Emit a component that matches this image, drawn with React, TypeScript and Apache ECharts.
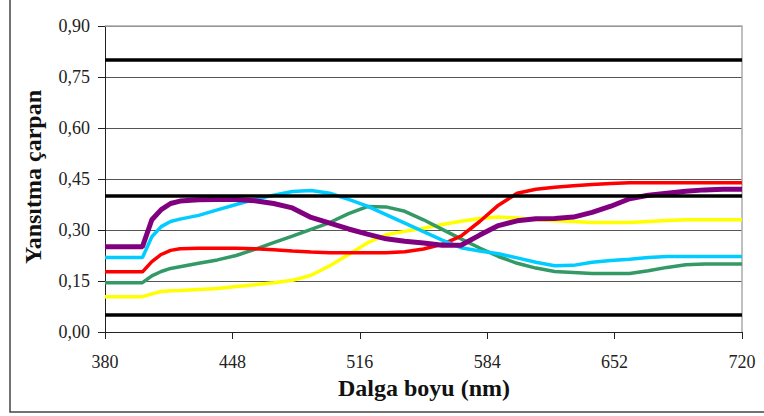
import React, { useEffect, useRef } from "react";
import * as echarts from "echarts";

// Wavelength sampling (nm)
const wavelengths = [
  380, 390, 400, 405, 410, 415, 420, 430, 440, 450, 460, 470, 480, 490, 500,
  510, 520, 530, 540, 550, 560, 570, 580, 590, 600, 610, 620, 630, 640, 650,
  660, 670, 680, 690, 700, 710, 720,
];

// Reflectance curves
const purpleCurve = [
  0.251, 0.251, 0.251, 0.33, 0.36, 0.378, 0.385, 0.389, 0.39, 0.39, 0.386,
  0.378, 0.365, 0.337, 0.32, 0.303, 0.288, 0.274, 0.267, 0.262, 0.255, 0.255,
  0.285, 0.313, 0.327, 0.333, 0.334, 0.338, 0.352, 0.37, 0.392, 0.402, 0.408,
  0.414, 0.418, 0.42, 0.42,
];
const cyanCurve = [
  0.219, 0.219, 0.219, 0.28, 0.31, 0.325, 0.332, 0.343, 0.359, 0.375, 0.39,
  0.402, 0.413, 0.416, 0.408, 0.39, 0.37, 0.345, 0.32, 0.295, 0.27, 0.248,
  0.238, 0.23, 0.218, 0.205, 0.195, 0.196, 0.205, 0.21, 0.214, 0.219, 0.222,
  0.222, 0.222, 0.222, 0.222,
];
const redCurve = [
  0.177, 0.177, 0.177, 0.207, 0.228, 0.24, 0.245, 0.246, 0.246, 0.246, 0.245,
  0.242, 0.238, 0.235, 0.233, 0.233, 0.233, 0.233, 0.236, 0.244, 0.258, 0.282,
  0.325, 0.373, 0.408, 0.42, 0.426, 0.43, 0.434, 0.437, 0.439, 0.439, 0.439,
  0.439, 0.439, 0.439, 0.439,
];
const greenCurve = [
  0.145, 0.145, 0.145, 0.165, 0.178, 0.187, 0.192, 0.202, 0.212, 0.225, 0.243,
  0.263, 0.282, 0.302, 0.322, 0.348, 0.369, 0.368, 0.355, 0.33, 0.302, 0.274,
  0.247, 0.222, 0.202, 0.188, 0.178, 0.175, 0.172, 0.172, 0.172, 0.18, 0.19,
  0.198, 0.2, 0.2, 0.2,
];
const yellowCurve = [
  0.104, 0.104, 0.104, 0.112, 0.119, 0.121, 0.122, 0.125, 0.128, 0.134, 0.139,
  0.145, 0.152, 0.167, 0.195, 0.228, 0.262, 0.286, 0.296, 0.305, 0.316, 0.326,
  0.334, 0.338, 0.335, 0.331, 0.327, 0.325, 0.322, 0.322, 0.322, 0.325, 0.328,
  0.33, 0.33, 0.33, 0.33,
];

// Reference levels drawn as heavy horizontal lines
const thresholds = [0.05, 0.4, 0.8];

const xTitle = "Dalga boyu (nm)";
const yTitle = "Yansıtma çarpan";

const serif = '"Liberation Serif", "Times New Roman", serif';

const pair = (ys: number[]) => wavelengths.map((x, i) => [x, ys[i]]);

export default function App() {
  const ref = useRef<HTMLDivElement>(null);

  useEffect(() => {
    document.body.style.margin = "0";
    if (!ref.current) return;
    const chart = echarts.init(ref.current, null, { renderer: "svg" });

    const curve = (name: string, color: string, data: number[], width: number) => ({
      name,
      type: "line",
      data: pair(data),
      showSymbol: false,
      symbol: "none",
      smooth: false,
      lineStyle: { color, width },
      z: 3,
    });

    chart.setOption({
      animation: false,
      backgroundColor: "#ffffff",
      grid: { left: 105, right: 22, top: 26, bottom: 84, show: false },
      xAxis: {
        type: "value",
        min: 380,
        max: 720,
        interval: 68,
        axisLine: { show: true, lineStyle: { color: "#222", width: 1 } },
        axisTick: { show: true, inside: false, length: 7, lineStyle: { color: "#222" } },
        axisLabel: { color: "#222", fontFamily: serif, fontSize: 18, margin: 21 },
        splitLine: { show: false },
      },
      yAxis: {
        type: "value",
        min: 0,
        max: 0.9,
        interval: 0.15,
        axisLine: { show: true, lineStyle: { color: "#222", width: 1 } },
        axisTick: { show: true, inside: false, length: 7, lineStyle: { color: "#222" } },
        axisLabel: {
          color: "#222",
          fontFamily: serif,
          fontSize: 18,
          margin: 15,
          formatter: (v: number) => v.toFixed(2).replace(".", ","),
        },
        splitLine: { show: true, lineStyle: { color: "#555", width: 1 } },
      },
      graphic: [
        {
          type: "rect",
          shape: { x: 10, y: -10, width: 770, height: 422 },
          style: { fill: "none", stroke: "#444", lineWidth: 1.5 },
          silent: true,
          z: -10,
        },
        {
          type: "polyline",
          shape: { points: [[105, 26], [742, 26], [742, 332]] },
          style: { stroke: "#aaa", lineWidth: 1.5, fill: "none" },
          silent: true,
          z: 1,
        },
        {
          type: "text",
          x: 424,
          y: 388,
          style: {
            text: xTitle,
            fontFamily: serif,
            fontWeight: "bold",
            fontSize: 24,
            fill: "#111",
            textAlign: "center",
            textVerticalAlign: "middle",
          },
        },
        {
          type: "text",
          x: 33,
          y: 177,
          rotation: Math.PI / 2,
          style: {
            text: yTitle,
            fontFamily: serif,
            fontWeight: "bold",
            fontSize: 24,
            fill: "#111",
            textAlign: "center",
            textVerticalAlign: "middle",
          },
        },
      ],
      series: [
        {
          name: "levels",
          type: "line",
          data: [],
          markLine: {
            silent: true,
            symbol: ["none", "none"],
            label: { show: false },
            lineStyle: { color: "#000", width: 3.5, type: "solid" },
            data: thresholds.map((t) => ({ yAxis: t })),
          },
          z: 2,
        },
        curve("yellow", "#FFFF00", yellowCurve, 3.5),
        curve("green", "#339966", greenCurve, 3.5),
        curve("red", "#FF0000", redCurve, 3.5),
        curve("cyan", "#00CCFF", cyanCurve, 3.5),
        curve("purple", "#800080", purpleCurve, 5),
      ],
    });

    return () => chart.dispose();
  }, []);

  return <div ref={ref} style={{ width: 764, height: 416 }} />;
}
